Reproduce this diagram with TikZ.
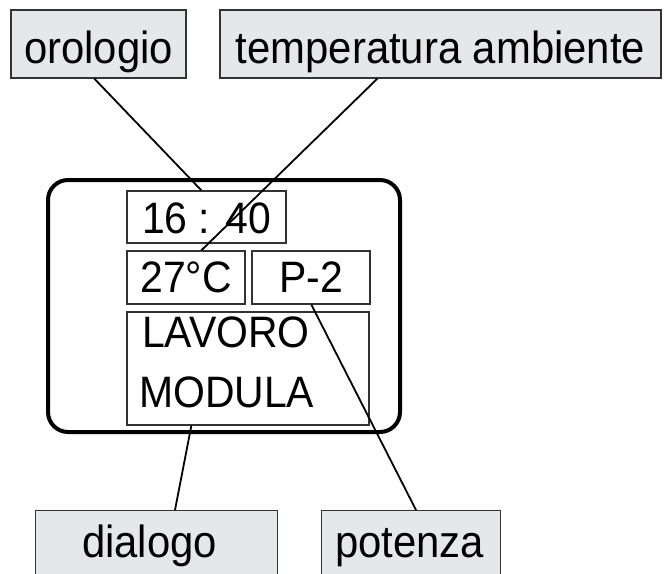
\documentclass[tikz,border=0pt]{standalone}
\usepackage{fontspec}
\setmainfont[FakeStretch=0.93]{Liberation Sans}
\usetikzlibrary{calc}
\definecolor{boxfill}{HTML}{E6E7E8}
\definecolor{boxline}{HTML}{333333}
\tikzset{
  labelbox/.style={draw=boxline, fill=boxfill, line width=1.3pt, inner sep=0pt,
    font=\fontsize{45}{52}\selectfont, text height=40pt, text depth=2pt},
  innerbox/.style={draw=boxline, line width=1.3pt, inner sep=0pt,
    font=\fontsize{44}{52}\selectfont, text height=34pt, text depth=2pt},
  plaintext/.style={inner sep=0pt, font=\fontsize{44}{52}\selectfont},
  labeltext/.style={inner sep=0pt, font=\fontsize{45}{52}\selectfont},
  connector/.style={line width=1.8pt, black}
}
\begin{document}
\begin{tikzpicture}[x=1pt,y=-1pt]
\clip (0,0) rectangle (664,573);
\fill[white] (0,0) rectangle (664,573);
% top labels
\node[labelbox, minimum width=175pt, minimum height=68pt] (orologio) at (98.5,44) {orologio};
\node[labelbox, minimum width=441pt, minimum height=68pt] (temp) at (440.5,44) {temperatura ambiente};
% display
\node[draw=black, line width=4pt, rounded corners=20pt, minimum width=352pt, minimum height=252pt, inner sep=0pt] (display) at (224,306) {};
\node[innerbox, minimum width=159pt, minimum height=52pt] (clock) at (206.5,217) {16 : 40};
\node[innerbox, minimum width=118pt, minimum height=53pt, text height=31pt] (tempv) at (186,277.5) {27°C};
\node[innerbox, minimum width=118pt, minimum height=53pt, text height=31pt] (pow) at (311,277.5) {P-2};
\node[innerbox, minimum width=242pt, minimum height=113pt] (msg) at (248,368.5) {};
\node[plaintext, anchor=base west] (line1) at (142,347) {LAVORO};
\node[plaintext, anchor=base west] (line2) at (139,407) {MODULA};
% bottom labels
\node[labelbox, minimum width=242pt, minimum height=90pt, anchor=north west, text height=0pt, text depth=0pt] (dialogo) at (35,510) {};
\node[labeltext, anchor=base] (dialogotxt) at (149.5,557) {dialogo};
\node[labelbox, minimum width=179pt, minimum height=90pt, anchor=north west, text height=0pt, text depth=0pt] (potenza) at (321,510) {};
\node[labeltext, anchor=base] (potenzatxt) at (409.5,557) {potenza};
% connectors
\draw[connector] ($(orologio.south west)+(84,0)$) -- ($(clock.north west)+(75,0)$);
\draw[connector] ($(temp.south west)+(158,0)$) -- ($(tempv.north west)+(75,0)$);
\draw[connector] ($(msg.south west)+(65,0)$) -- ($(dialogo.north west)+(140,0)$);
\draw[connector] ($(pow.south west)+(60,0)$) -- ($(potenza.north west)+(95,0)$);
\end{tikzpicture}
\end{document}
